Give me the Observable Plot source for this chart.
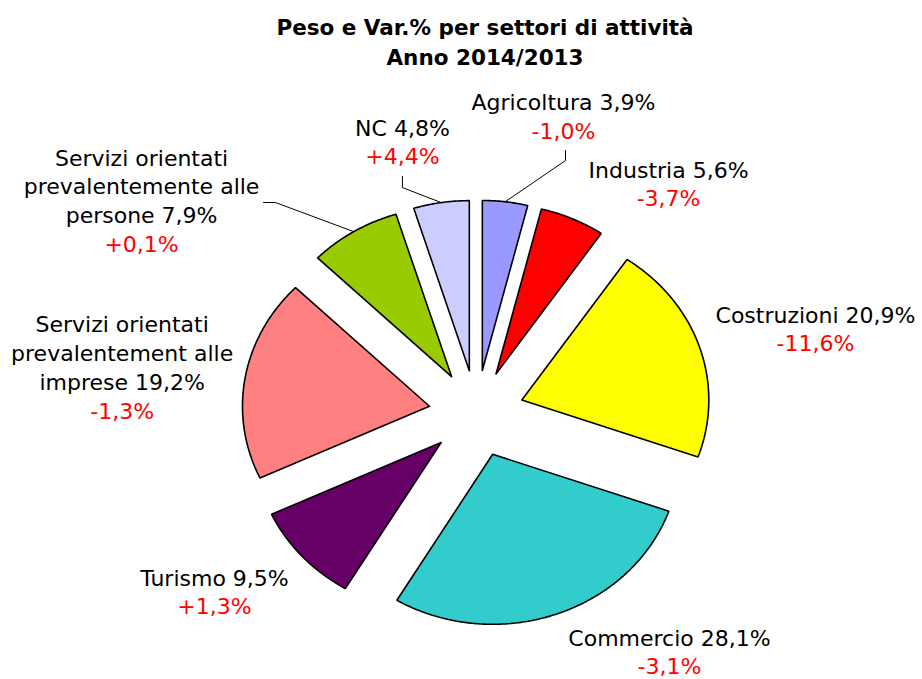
<!DOCTYPE html>
<html><head><meta charset="utf-8">
<script src="https://cdn.jsdelivr.net/npm/d3@7"></script>
<script src="https://cdn.jsdelivr.net/npm/@observablehq/plot@0.6"></script>
<style>
html,body{margin:0;padding:0;background:#fff}
body{width:922px;height:679px;overflow:hidden}
#title{box-sizing:border-box;height:75px;padding-top:13px;padding-left:48px;text-align:center;font-family:"DejaVu Sans",sans-serif;font-weight:700;font-size:21.5px;line-height:30px;color:#000}
#chart svg{display:block}
</style></head><body>
<div id="title">Peso e Var.% per settori di attività<br>Anno 2014/2013</div>
<div id="chart"></div>
<script>
// ---- data ----
const sectors = ["Agricoltura","Industria","Costruzioni","Commercio","Turismo","Servizi imprese","Servizi persone","NC"];
const labelNames = ["Agricoltura","Industria","Costruzioni","Commercio","Turismo",
  "Servizi orientati\nprevalentement alle\nimprese","Servizi orientati\nprevalentemente alle\npersone","NC"];
const weights = [3.9,5.6,20.9,28.1,9.5,19.2,7.9,4.8];
const changes = [-1.0,-3.7,-11.6,-3.1,1.3,-1.3,0.1,4.4];
const colors = ["#9999FF","#FF0000","#FFFF00","#33CCCC","#660066","#FF8080","#99CC00","#CCCCFF"];

// ---- layout (units of pie radius, relative to pie centre) ----
const explode = 0.255;
const labelPos = [[0.465,1.824],[1.027,1.429],[1.813,0.576],[1.032,-1.324],[-1.401,-0.971],[-1.895,0.518],[-1.791,1.5],[-0.396,1.676]];
const leaders = {0:[[0.476,1.488],[0.476,1.547]], 7:[[-0.396,1.329],[-0.396,1.394]], 6:[[-1.075,1.241],[-1.139,1.241]]};
const lineStep = 28.7/170;

const fmt = v => v.toFixed(1).replace(".", ",");
const total = d3.sum(weights);

const slicePts = [];
const labelRows = [];
const leaderPts = [];
let acc = 0;
weights.forEach((w, i) => {
  const a0 = acc / total * 2 * Math.PI;
  acc += w;
  const a1 = acc / total * 2 * Math.PI;
  const m = (a0 + a1) / 2;
  const ox = explode * Math.sin(m), oy = explode * Math.cos(m);
  slicePts.push({s: sectors[i], x: ox, y: oy, c: colors[i]});
  const n = Math.max(2, Math.ceil((a1 - a0) / 0.01));
  for (let k = 0; k <= n; k++) {
    const t = a0 + (a1 - a0) * k / n;
    slicePts.push({s: sectors[i], x: ox + Math.sin(t), y: oy + Math.cos(t), c: colors[i]});
  }
  slicePts.push({s: sectors[i], x: ox, y: oy, c: colors[i]});
  const lines = labelNames[i].split("\n");
  lines[lines.length - 1] += " " + fmt(w) + "%";
  const [lx, ly] = labelPos[i];
  lines.forEach((t, j) => labelRows.push({t, x: lx, y: ly - j * lineStep, c: "#000"}));
  labelRows.push({t: (changes[i] > 0 ? "+" : "") + fmt(changes[i]) + "%", x: lx, y: ly - lines.length * lineStep, c: "#FF0000"});
  if (leaders[i]) {
    leaderPts.push({s: sectors[i], x: ox + Math.sin(m), y: oy + Math.cos(m)});
    leaders[i].forEach(([x, y]) => leaderPts.push({s: sectors[i], x, y}));
  }
});

const W = 922, H = 604;
const rx = 187, ry = 170, cx = 476, cy = 338;
const chart = Plot.plot({
  width: W, height: H,
  margin: 0,
  x: {axis: null, domain: [-cx / rx, (W - cx) / rx]},
  y: {axis: null, domain: [-(H - cy) / ry, cy / ry]},
  color: {type: "identity"},
  marks: [
    Plot.line(leaderPts, {x: "x", y: "y", z: "s", stroke: "#000", strokeWidth: 1}),
    Plot.line(slicePts, {x: "x", y: "y", z: "s", fill: "c", stroke: "#000", strokeWidth: 1.6, strokeLinejoin: "miter"}),
    Plot.text(labelRows, {x: "x", y: "y", text: "t", fill: "c", fontSize: 22, fontFamily: "DejaVu Sans", textAnchor: "middle", lineAnchor: "middle", style: {letterSpacing: "0.8px"}})
  ]
});
document.getElementById("chart").appendChild(chart);
</script>
</body></html>
